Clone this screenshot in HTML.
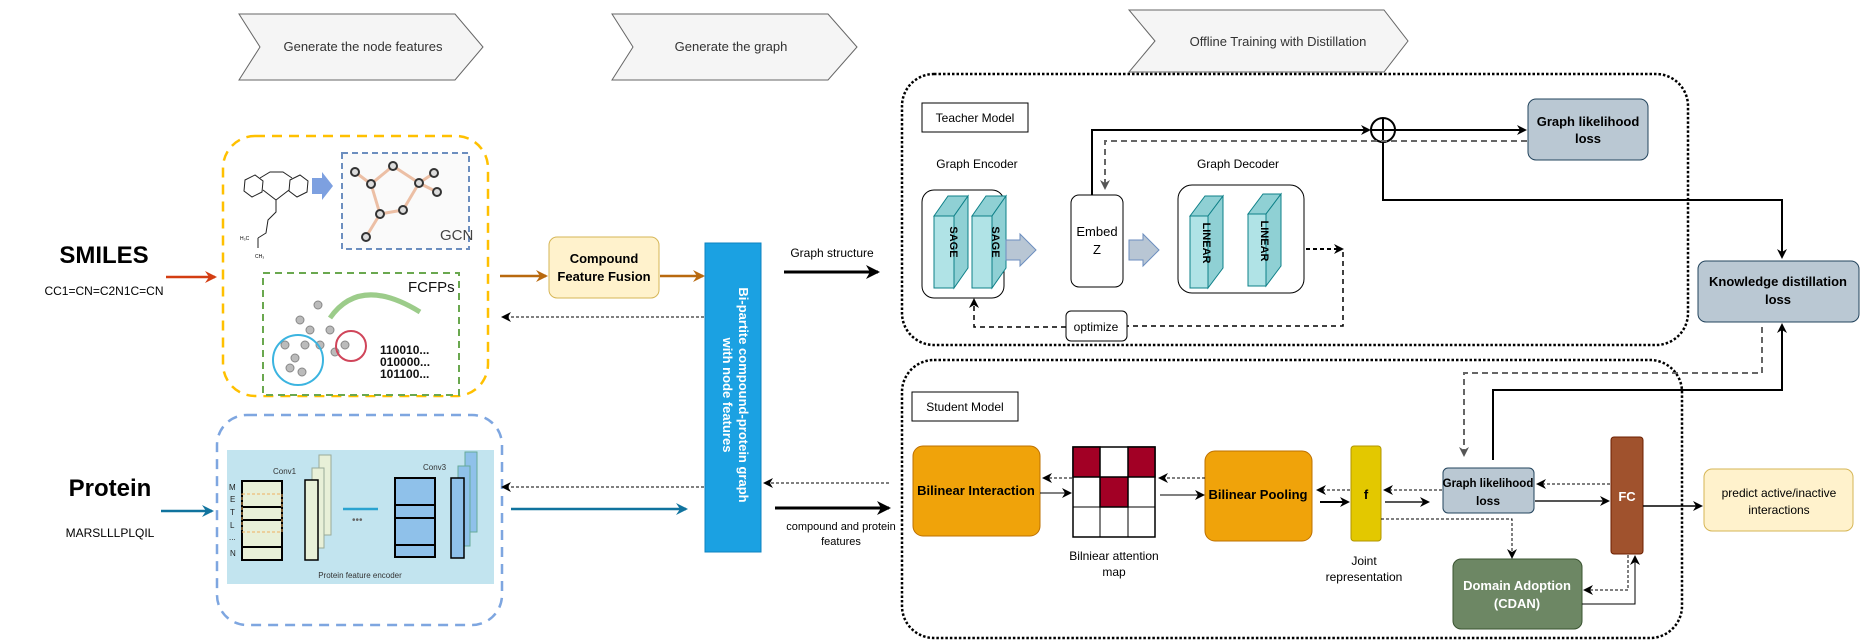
<!DOCTYPE html>
<html><head><meta charset="utf-8"><style>
html,body{margin:0;padding:0;background:#fff;}
svg{display:block;font-family:"Liberation Sans",Arial,sans-serif;}
</style></head><body>
<svg width="1871" height="642" viewBox="0 0 1871 642" xmlns="http://www.w3.org/2000/svg">
<defs>
<marker id="ab" markerWidth="10" markerHeight="10" refX="8" refY="5" orient="auto" markerUnits="userSpaceOnUse"><path d="M0,0 L10,5 L0,10 L3,5z" fill="#000"/></marker>
<marker id="ag" markerWidth="10" markerHeight="10" refX="8" refY="5" orient="auto" markerUnits="userSpaceOnUse"><path d="M0,0 L10,5 L0,10 L3,5z" fill="#555"/></marker>
<marker id="ar" markerWidth="12" markerHeight="12" refX="10" refY="6" orient="auto" markerUnits="userSpaceOnUse"><path d="M0,0 L12,6 L0,12 L4,6z" fill="#d33d12"/></marker>
<marker id="ao" markerWidth="12" markerHeight="12" refX="10" refY="6" orient="auto" markerUnits="userSpaceOnUse"><path d="M0,0 L12,6 L0,12 L4,6z" fill="#b8690e"/></marker>
<marker id="abl" markerWidth="12" markerHeight="12" refX="10" refY="6" orient="auto" markerUnits="userSpaceOnUse"><path d="M0,0 L12,6 L0,12 L4,6z" fill="#10739e"/></marker>
<marker id="abig" markerWidth="14" markerHeight="14" refX="12" refY="7" orient="auto" markerUnits="userSpaceOnUse"><path d="M0,0 L14,7 L0,14 L4,7z" fill="#000"/></marker>
</defs>

<g fill="#f5f5f5" stroke="#666" stroke-width="1">
<path d="M239,14 L455,14 L483,47 L455,80 L239,80 L260,47z"/>
<path d="M612,14 L828,14 L857,47 L828,80 L612,80 L633,47z"/>
<path d="M1129,10 L1384,10 L1408,41 L1384,72 L1129,72 L1155,41z"/>
</g>
<g font-size="13" fill="#333" text-anchor="middle">
<text x="363" y="51">Generate  the node features</text>
<text x="731" y="51">Generate the graph</text>
<text x="1278" y="46">Offline Training with Distillation</text>
</g>

<text x="104" y="263" font-size="24" font-weight="bold" text-anchor="middle">SMILES</text>
<text x="104" y="295" font-size="12" text-anchor="middle">CC1=CN=C2N1C=CN</text>
<line x1="166" y1="277" x2="215" y2="277" stroke="#d33d12" stroke-width="2.5" marker-end="url(#ar)"/>
<text x="110" y="496" font-size="24" font-weight="bold" text-anchor="middle">Protein</text>
<text x="110" y="537" font-size="12" text-anchor="middle">MARSLLLPLQIL</text>
<line x1="161" y1="511" x2="212" y2="511" stroke="#10739e" stroke-width="2.5" marker-end="url(#abl)"/>

<rect x="223" y="136" width="265" height="260" rx="32" fill="none" stroke="#ffc000" stroke-width="2.5" stroke-dasharray="10,7"/>
<g stroke="#222" stroke-width="1" fill="none">
<polygon points="245,180 255,175 263,181 262,192 252,197 244,191"/>
<polygon points="290,180 300,175 308,181 307,192 297,197 289,191"/>
<path d="M260,178 L270,172 L283,172 L292,178 M263,190 L276,200 L289,190 M276,200 L276,212 L268,220 L266,233 L258,238 M258,238 L258,248"/>
</g>
<text x="240" y="240" font-size="5">H₃C</text><text x="255" y="258" font-size="5">CH₃</text>
<path d="M312,178 L322,178 L322,172 L333,186 L322,200 L322,194 L312,194z" fill="#7da0e0"/>
<rect x="342" y="153" width="127" height="96" fill="#fafafa" stroke="#6c8ebf" stroke-width="2" stroke-dasharray="6,4"/>
<g stroke="#e8b090" stroke-width="3" fill="none" opacity="0.8">
<path d="M371,184 L393,166 L419,183 L403,210 L380,214 L371,184 M380,214 L366,237 M419,183 L434,173 M419,183 L437,192 M371,184 L355,172"/>
</g>
<g fill="#ddd" stroke="#333" stroke-width="2">
<circle cx="355" cy="172" r="4"/><circle cx="393" cy="166" r="4"/><circle cx="371" cy="184" r="4"/><circle cx="419" cy="183" r="4"/><circle cx="434" cy="173" r="4"/><circle cx="437" cy="192" r="4"/><circle cx="380" cy="214" r="4"/><circle cx="403" cy="210" r="4"/><circle cx="366" cy="237" r="4"/>
</g>
<text x="440" y="240" font-size="15" fill="#444">GCN</text>
<rect x="263" y="273" width="196" height="122" fill="#fff" stroke="#6aa84f" stroke-width="2" stroke-dasharray="7,5"/>
<text x="408" y="292" font-size="15" fill="#111">FCFPs</text>
<path d="M330,318 Q360,275 420,312" stroke="#9ccc8a" stroke-width="5" fill="none"/>
<g fill="#bbb" stroke="#888" stroke-width="1">
<circle cx="300" cy="320" r="4"/><circle cx="310" cy="330" r="4"/><circle cx="305" cy="345" r="4"/><circle cx="295" cy="358" r="4"/><circle cx="285" cy="345" r="4"/><circle cx="290" cy="368" r="4"/><circle cx="302" cy="372" r="4"/><circle cx="320" cy="345" r="4"/><circle cx="335" cy="352" r="4"/><circle cx="345" cy="345" r="4"/><circle cx="318" cy="305" r="4"/><circle cx="330" cy="330" r="4"/>
</g>
<circle cx="298" cy="360" r="25" fill="none" stroke="#3bb4e0" stroke-width="2"/>
<circle cx="351" cy="346" r="15" fill="none" stroke="#d0455a" stroke-width="2"/>
<g font-size="12" font-weight="bold" fill="#111"><text x="380" y="354">110010...</text><text x="380" y="366">010000...</text><text x="380" y="378">101100...</text></g>

<rect x="217" y="415" width="285" height="210" rx="30" fill="none" stroke="#7ea6e0" stroke-width="2.5" stroke-dasharray="10,7"/>
<rect x="227" y="450" width="267" height="134" fill="#c2e4ef"/>
<g font-size="8" fill="#222"><text x="229" y="490">M</text><text x="230" y="502">E</text><text x="230" y="515">T</text><text x="230" y="528">L</text><text x="229" y="540">...</text><text x="230" y="556">N</text></g>
<text x="273" y="474" font-size="8" fill="#333">Conv1</text>
<text x="423" y="470" font-size="8" fill="#333">Conv3</text>
<rect x="242" y="481" width="40" height="79" fill="#e8f0d8" stroke="#000" stroke-width="2"/>
<g stroke="#000" stroke-width="2"><line x1="242" y1="507" x2="282" y2="507"/><line x1="242" y1="520" x2="282" y2="520"/><line x1="242" y1="547" x2="282" y2="547"/></g>
<rect x="319" y="455" width="12" height="80" fill="#e8f0d8" stroke="#9a9" stroke-width="1"/>
<rect x="312" y="468" width="12" height="80" fill="#e8f0d8" stroke="#9a9" stroke-width="1"/>
<rect x="305" y="480" width="13" height="80" fill="#e8f0d8" stroke="#000" stroke-width="1.5"/>
<rect x="242" y="494" width="40" height="38" fill="none" stroke="#f0b060" stroke-dasharray="3,2"/>
<line x1="343" y1="509" x2="378" y2="509" stroke="#2aa3d0" stroke-width="2.5"/>
<text x="352" y="523" font-size="10" fill="#666">•••</text>
<rect x="395" y="478" width="40" height="79" fill="#8fc1ea" stroke="#000" stroke-width="2"/>
<g stroke="#000" stroke-width="2"><line x1="395" y1="505" x2="435" y2="505"/><line x1="395" y1="518" x2="435" y2="518"/><line x1="395" y1="545" x2="435" y2="545"/></g>
<rect x="465" y="452" width="12" height="80" fill="#8fc1ea" stroke="#6a9" stroke-width="1"/>
<rect x="458" y="466" width="12" height="80" fill="#8fc1ea" stroke="#6a9" stroke-width="1"/>
<rect x="451" y="478" width="13" height="80" fill="#8fc1ea" stroke="#000" stroke-width="1.5"/>
<text x="360" y="578" font-size="8" fill="#333" text-anchor="middle">Protein feature encoder</text>

<line x1="500" y1="276" x2="546" y2="276" stroke="#b8690e" stroke-width="2.5" marker-end="url(#ao)"/>
<rect x="549" y="237" width="110" height="61" rx="8" fill="#fff2cc" stroke="#d6b656"/>
<text x="604" y="263" font-size="13" font-weight="bold" text-anchor="middle">Compound</text>
<text x="604" y="281" font-size="13" font-weight="bold" text-anchor="middle">Feature Fusion</text>
<line x1="660" y1="276" x2="703" y2="276" stroke="#b8690e" stroke-width="2.5" marker-end="url(#ao)"/>
<line x1="704" y1="317" x2="503" y2="317" stroke="#000" stroke-width="1" stroke-dasharray="3,2" marker-end="url(#ab)"/>
<line x1="704" y1="487" x2="503" y2="487" stroke="#000" stroke-width="1" stroke-dasharray="3,2" marker-end="url(#ab)"/>
<line x1="511" y1="509" x2="686" y2="509" stroke="#10739e" stroke-width="2.5" marker-end="url(#abl)"/>

<rect x="705" y="243" width="56" height="309" fill="#1ba1e2" stroke="#0e83c0"/>
<g transform="translate(733,395) rotate(90)" font-size="13" font-weight="bold" fill="#fff" text-anchor="middle">
<text x="0" y="-6">Bi-partite compound-protein graph</text>
<text x="0" y="10">with node features</text>
</g>

<text x="832" y="257" font-size="12" text-anchor="middle">Graph structure</text>
<line x1="784" y1="272" x2="878" y2="272" stroke="#000" stroke-width="3" marker-end="url(#abig)"/>
<line x1="889" y1="483" x2="765" y2="483" stroke="#000" stroke-width="1" stroke-dasharray="3,2" marker-end="url(#ab)"/>
<line x1="775" y1="508" x2="889" y2="508" stroke="#000" stroke-width="3" marker-end="url(#abig)"/>
<text x="841" y="530" font-size="11" text-anchor="middle">compound and protein</text>
<text x="841" y="545" font-size="11" text-anchor="middle">features</text>

<rect x="902" y="74" width="786" height="271" rx="32" fill="none" stroke="#000" stroke-width="2.5" stroke-dasharray="2.5,2"/>
<rect x="922" y="103" width="106" height="29" fill="#fff" stroke="#000"/>
<text x="975" y="122" font-size="12" text-anchor="middle">Teacher Model</text>
<text x="977" y="168" font-size="12" text-anchor="middle">Graph Encoder</text>
<text x="1238" y="168" font-size="12" text-anchor="middle">Graph Decoder</text>
<rect x="922" y="190" width="82" height="108" rx="12" fill="#fff" stroke="#000"/>
<g fill="#b0e3e6" stroke="#0e8088" stroke-width="1">
<path d="M934,216 L948,196 L968,196 L954,216z" fill="#8fd0d4"/><path d="M954,216 L968,196 L968,268 L954,288z" fill="#8fd0d4"/><rect x="934" y="216" width="20" height="72"/>
<path d="M972,216 L986,196 L1006,196 L992,216z" fill="#8fd0d4"/><path d="M992,216 L1006,196 L1006,268 L992,288z" fill="#8fd0d4"/><rect x="972" y="216" width="20" height="72"/>
</g>
<text transform="translate(950,242) rotate(90)" font-size="11" font-weight="bold" text-anchor="middle">SAGE</text>
<text transform="translate(992,242) rotate(90)" font-size="11" font-weight="bold" text-anchor="middle">SAGE</text>
<path d="M1006,240 L1020,240 L1020,234 L1036,250 L1020,266 L1020,260 L1006,260z" fill="#b8c6d4" stroke="#6c8ebf"/>
<rect x="1071" y="195" width="52" height="92" rx="8" fill="#fff" stroke="#000"/>
<text x="1097" y="236" font-size="13" text-anchor="middle">Embed</text>
<text x="1097" y="254" font-size="13" text-anchor="middle">Z</text>
<path d="M1129,240 L1143,240 L1143,234 L1159,250 L1143,266 L1143,260 L1129,260z" fill="#b8c6d4" stroke="#6c8ebf"/>
<rect x="1178" y="185" width="126" height="108" rx="14" fill="#fff" stroke="#000"/>
<g fill="#b0e3e6" stroke="#0e8088" stroke-width="1">
<path d="M1190,216 L1205,196 L1223,196 L1208,216z" fill="#8fd0d4"/><path d="M1208,216 L1223,196 L1223,268 L1208,288z" fill="#8fd0d4"/><rect x="1190" y="216" width="18" height="72"/>
<path d="M1248,214 L1263,194 L1281,194 L1266,214z" fill="#8fd0d4"/><path d="M1266,214 L1281,194 L1281,266 L1266,286z" fill="#8fd0d4"/><rect x="1248" y="214" width="18" height="72"/>
</g>
<text transform="translate(1203,243) rotate(90)" font-size="11" font-weight="bold" text-anchor="middle">LINEAR</text>
<text transform="translate(1261,241) rotate(90)" font-size="11" font-weight="bold" text-anchor="middle">LINEAR</text>
<polyline points="1306,249 1342,249" fill="none" stroke="#000" stroke-width="2" stroke-dasharray="4,3" marker-end="url(#ab)"/>
<polyline points="1343,252 1343,326 1127,326" fill="none" stroke="#000" stroke-width="1.5" stroke-dasharray="5,4"/>
<rect x="1066" y="311" width="61" height="30" rx="5" fill="#fff" stroke="#000"/>
<text x="1096" y="331" font-size="12" text-anchor="middle">optimize</text>
<polyline points="1066,327 974,327 974,300" fill="none" stroke="#000" stroke-width="1.5" stroke-dasharray="5,4" marker-end="url(#ab)"/>
<polyline points="1092,195 1092,130 1369,130" fill="none" stroke="#000" stroke-width="2" marker-end="url(#ab)"/>
<circle cx="1383" cy="130" r="12" fill="#fff" stroke="#000" stroke-width="2"/>
<path d="M1371,130 H1395 M1383,118 V142" stroke="#000" stroke-width="2"/>
<line x1="1395" y1="130" x2="1525" y2="130" stroke="#000" stroke-width="2" marker-end="url(#ab)"/>
<polyline points="1527,141 1105,141 1105,188" fill="none" stroke="#666" stroke-width="2" stroke-dasharray="6,4" marker-end="url(#ag)"/>
<rect x="1528" y="99" width="120" height="61" rx="8" fill="#bac8d3" stroke="#23445d"/>
<text x="1588" y="126" font-size="13" font-weight="bold" text-anchor="middle">Graph likelihood</text>
<text x="1588" y="143" font-size="13" font-weight="bold" text-anchor="middle">loss</text>
<polyline points="1383,142 1383,200 1782,200 1782,257" fill="none" stroke="#000" stroke-width="2" marker-end="url(#ab)"/>
<rect x="1698" y="261" width="161" height="61" rx="8" fill="#bac8d3" stroke="#23445d"/>
<text x="1778" y="286" font-size="13" font-weight="bold" text-anchor="middle">Knowledge distillation</text>
<text x="1778" y="304" font-size="13" font-weight="bold" text-anchor="middle">loss</text>

<rect x="902" y="360" width="780" height="278" rx="32" fill="none" stroke="#000" stroke-width="2.5" stroke-dasharray="2.5,2"/>
<rect x="912" y="392" width="106" height="29" fill="#fff" stroke="#000"/>
<text x="965" y="411" font-size="12" text-anchor="middle">Student Model</text>
<polyline points="1762,327 1762,373 1464,373 1464,455" fill="none" stroke="#666" stroke-width="2" stroke-dasharray="6,4" marker-end="url(#ag)"/>
<polyline points="1493,460 1493,390 1782,390 1782,325" fill="none" stroke="#000" stroke-width="2" marker-end="url(#ab)"/>
<rect x="913" y="446" width="127" height="90" rx="10" fill="#f0a30a" stroke="#bd7000"/>
<text x="976" y="495" font-size="13" font-weight="bold" text-anchor="middle">Bilinear Interaction</text>
<g stroke="#000" stroke-width="1.5">
<rect x="1073" y="447" width="82" height="90" fill="#fff"/>
<rect x="1073" y="447" width="27" height="30" fill="#a20025"/><rect x="1128" y="447" width="27" height="30" fill="#a20025"/><rect x="1100" y="477" width="28" height="30" fill="#a20025"/>
<path d="M1100,447 V537 M1128,447 V537 M1073,477 H1155 M1073,507 H1155" fill="none" stroke-width="1"/>
</g>
<text x="1114" y="560" font-size="12" text-anchor="middle">Bilniear attention</text>
<text x="1114" y="576" font-size="12" text-anchor="middle">map</text>
<rect x="1205" y="451" width="107" height="90" rx="10" fill="#f0a30a" stroke="#bd7000"/>
<text x="1258" y="499" font-size="13" font-weight="bold" text-anchor="middle">Bilinear Pooling</text>
<rect x="1351" y="446" width="30" height="95" rx="3" fill="#e3c800" stroke="#b09500"/>
<text x="1366" y="499" font-size="13" font-weight="bold" text-anchor="middle">f</text>
<text x="1364" y="565" font-size="12" text-anchor="middle">Joint</text>
<text x="1364" y="581" font-size="12" text-anchor="middle">representation</text>
<rect x="1443" y="468" width="91" height="45" rx="5" fill="#bac8d3" stroke="#23445d"/>
<text x="1488" y="487" font-size="11.5" font-weight="bold" text-anchor="middle">Graph likelihood</text>
<text x="1488" y="505" font-size="12" font-weight="bold" text-anchor="middle">loss</text>
<rect x="1611" y="437" width="32" height="117" rx="3" fill="#a0522d" stroke="#6d1f00"/>
<text x="1627" y="501" font-size="13" font-weight="bold" fill="#fff" text-anchor="middle">FC</text>
<rect x="1453" y="559" width="129" height="70" rx="8" fill="#6d8764" stroke="#3a5431"/>
<text x="1517" y="590" font-size="13" font-weight="bold" fill="#fff" text-anchor="middle">Domain Adoption</text>
<text x="1517" y="608" font-size="13" font-weight="bold" fill="#fff" text-anchor="middle">(CDAN)</text>
<rect x="1704" y="469" width="149" height="62" rx="8" fill="#fff2cc" stroke="#d6b656"/>
<text x="1779" y="497" font-size="12" text-anchor="middle">predict active/inactive</text>
<text x="1779" y="514" font-size="12" text-anchor="middle">interactions</text>
<g stroke="#000" stroke-width="1" fill="none">
<line x1="1072" y1="478" x2="1044" y2="478" stroke-dasharray="3,2" marker-end="url(#ab)"/>
<line x1="1040" y1="493" x2="1070" y2="493" marker-end="url(#ab)"/>
<line x1="1205" y1="478" x2="1160" y2="478" stroke-dasharray="3,2" marker-end="url(#ab)"/>
<line x1="1160" y1="495" x2="1203" y2="495" marker-end="url(#ab)"/>
<line x1="1350" y1="490" x2="1318" y2="490" stroke-dasharray="3,2" marker-end="url(#ab)"/>
<line x1="1320" y1="502" x2="1348" y2="502" stroke-width="2" marker-end="url(#ab)"/>
<line x1="1442" y1="490" x2="1385" y2="490" stroke-dasharray="3,2" marker-end="url(#ab)"/>
<line x1="1385" y1="502" x2="1428" y2="502" stroke-width="2" stroke="#555" marker-end="url(#ab)"/>
<line x1="1610" y1="484" x2="1538" y2="484" stroke-dasharray="3,2" marker-end="url(#ab)"/>
<line x1="1535" y1="501" x2="1608" y2="501" stroke-width="2" stroke="#555" marker-end="url(#ab)"/>
<line x1="1643" y1="506" x2="1701" y2="506" stroke-width="1.5" marker-end="url(#ab)"/>
<polyline points="1381,519 1512,519 1512,557" stroke-dasharray="3,2" marker-end="url(#ab)"/>
<polyline points="1628,555 1628,590 1585,590" stroke-dasharray="3,2" marker-end="url(#ab)"/>
<polyline points="1582,604 1635,604 1635,557" marker-end="url(#ab)"/>
</g>
</svg>
</body></html>
